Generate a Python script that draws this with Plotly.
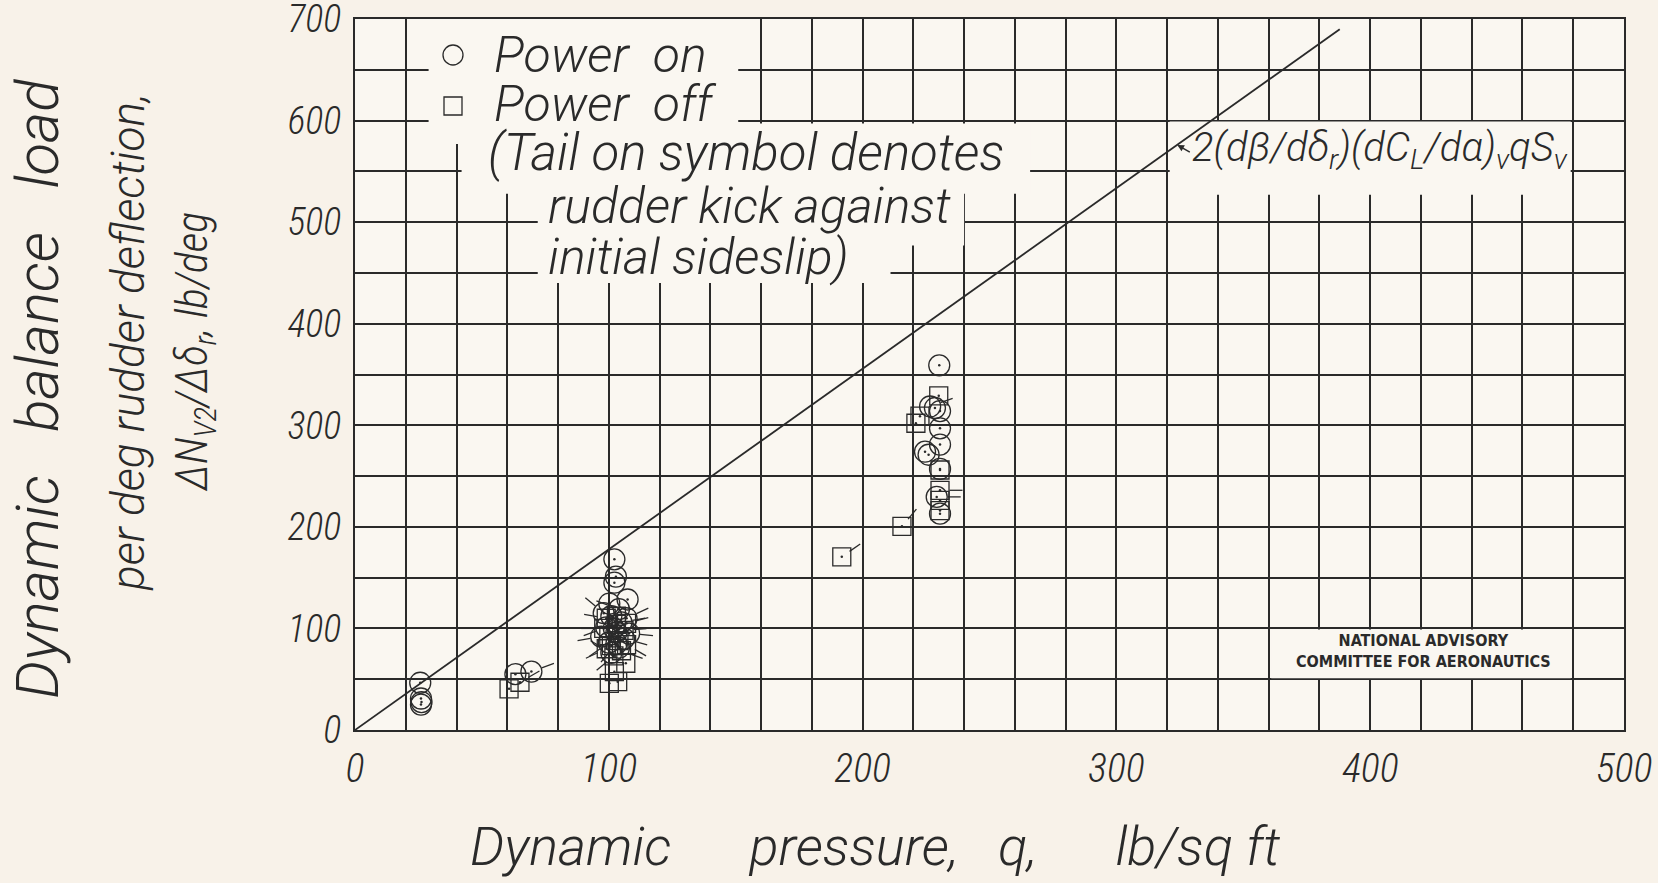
import math
import plotly.graph_objects as go

# ---- data -------------------------------------------------------------
# Power on (circles): dynamic pressure q [lb/sq ft] and load [lb/deg]
on_q = [25.7, 26.0, 26.2, 26.0,
        63.2, 69.5,
        102.2, 102.8, 102.2, 107.4, 100.2, 104.0, 101.0, 105.0, 99.0,
        103.0, 106.0, 100.0, 104.0, 101.0,
        98.0, 107.0, 102.0, 97.0, 108.0, 103.0,
        230.2, 226.6, 228.5, 230.5, 230.5, 230.5, 224.6, 226.0, 230.5,
        229.2, 230.5]
on_v = [46.5, 31.0, 27.5, 25.0,
        55.0, 57.5,
        168.0, 151.0, 145.0, 128.5, 124.5, 119.0, 112.0, 106.0, 101.0,
        96.0, 90.0, 86.0, 81.0, 76.0,
        115.0, 110.0, 100.0, 92.0, 95.0, 85.0,
        359.0, 318.5, 317.0, 314.0, 297.0, 281.0, 274.0, 271.0, 257.0,
        229.5, 213.0]
# tail direction in degrees (None = no tail)
on_tail = [None, None, None, None,
           None, 20,
           None, None, None, None, None, 160, None, 10, 200,
           None, -15, 215, None, 150,
           140, 25, None, 190, -5, 230,
           None, 20, None, None, None, None, None, None, None,
           0, None]

# Power off (squares)
off_q = [60.7, 65.0,
         99.0, 103.0, 106.0, 100.0, 104.0, 101.0, 105.0, 102.0,
         98.0, 107.0, 103.0, 99.0, 107.0,
         106.7, 102.2, 100.2, 103.5,
         191.8, 215.5,
         230.0, 222.6, 221.0, 230.5, 230.5, 230.5, 230.5]
off_v = [40.5, 47.0,
         110.0, 104.0, 98.0, 93.0, 88.0, 83.0, 78.0, 73.0,
         100.0, 105.0, 112.0, 80.0, 84.0,
         65.7, 57.4, 46.0, 47.6,
         170.5, 200.5,
         329.0, 309.0, 302.0, 256.0, 236.0, 226.0, 216.0]
off_tail = [None, 30,
            170, None, 5, None, 195, None, -20, 220,
            180, 15, None, 205, -30,
            None, None, None, None,
            35, 50,
            None, None, None, None, 0, None, None]

# 2(dB/dd_r)(dC_L/da)_v q S_v reference line
theory_q = [0, 388]
theory_v = [0, 690]

x_ticks = [0, 100, 200, 300, 400, 500]
y_ticks = [0, 100, 200, 300, 400, 500, 600, 700]

# ---- styling ----------------------------------------------------------
W, H = 1658, 883
ML, MR, MT, MB = 355, 34, 19, 153
PW, PH = W - ML - MR, H - MT - MB
XMAX, YMAX = 500, 700
KX, KY = PW / XMAX, PH / YMAX          # pixels per data unit

INK = "#2a2a2a"
PAPER = "#f8f2e9"
PLOT = "#faf7f1"
NARROW = "Roboto Condensed, Liberation Sans Narrow, Arial Narrow, sans-serif"
WIDE = "Roboto, Liberation Sans, Arial, sans-serif"


def hand(size, family=WIDE):
    return dict(family=family, size=size, color=INK, weight=300,
                style="italic")


def px(xp):
    return (xp - ML) / PW


def py(yp):
    return (MT + PH - yp) / PH


def tails(qs, vs, angs, marker_px):
    xs, ys = [], []
    r0 = marker_px / 2 + 0.5
    r1 = r0 + 13
    for q, v, a in zip(qs, vs, angs):
        if a is None:
            continue
        c, s = math.cos(math.radians(a)), math.sin(math.radians(a))
        xs += [q + r0 * c / KX, q + r1 * c / KX, None]
        ys += [v + r0 * s / KY, v + r1 * s / KY, None]
    return xs, ys


fig = go.Figure()

fig.add_trace(go.Scatter(x=theory_q, y=theory_v, mode="lines",
                         line=dict(color=INK, width=1.8),
                         showlegend=False, hoverinfo="skip"))

fig.add_trace(go.Scatter(x=on_q, y=on_v, mode="markers", name="Power on",
                         marker=dict(symbol="circle-open", size=21, color=INK,
                                     line=dict(width=1.3)),
                         showlegend=False))
fig.add_trace(go.Scatter(x=off_q, y=off_v, mode="markers", name="Power off",
                         marker=dict(symbol="square-open", size=18, color=INK,
                                     line=dict(width=1.3)),
                         showlegend=False))

tx1, ty1 = tails(on_q, on_v, on_tail, 21)
tx2, ty2 = tails(off_q, off_v, off_tail, 18)
fig.add_trace(go.Scatter(x=tx1 + tx2, y=ty1 + ty2, mode="lines",
                         line=dict(color=INK, width=1.3),
                         showlegend=False, hoverinfo="skip"))

# centre dots of the symbols
fig.add_trace(go.Scatter(x=on_q + off_q, y=on_v + off_v, mode="markers",
                         marker=dict(symbol="circle", size=2.5, color=INK),
                         showlegend=False, hoverinfo="skip"))

# ---- blank panels behind the lettering (hide the grid) ----------------
panels = [
    (29, 151, 577, 700),
    (42, 266, 528, 597),
    (72, 240, 477, 530),
    (72, 211, 440, 478),
    (321, 479, 527, 599),
    (361, 479, 51, 99),
]
shapes = []
for x0, x1, y0, y1 in panels:
    shapes.append(dict(type="rect", xref="x", yref="y", x0=x0, x1=x1,
                       y0=y0, y1=y1, fillcolor=PLOT, line=dict(width=0),
                       layer="between"))

# legend keys
shapes.append(dict(type="circle", xref="paper", yref="paper",
                   xsizemode="pixel", ysizemode="pixel",
                   xanchor=px(453), yanchor=py(55),
                   x0=-10, x1=10, y0=-10, y1=10,
                   line=dict(color=INK, width=1.3)))
shapes.append(dict(type="rect", xref="paper", yref="paper",
                   xsizemode="pixel", ysizemode="pixel",
                   xanchor=px(453), yanchor=py(106),
                   x0=-9, x1=9, y0=-9, y1=9,
                   line=dict(color=INK, width=1.3)))

ann = []


def text(t, xp, yp, size, xanchor="left", angle=0, family=WIDE):
    ann.append(dict(text=t, xref="paper", yref="paper", x=px(xp), y=py(yp),
                    xanchor=xanchor, yanchor="middle", showarrow=False,
                    textangle=angle, font=hand(size, family)))


text("Power  on", 492, 55, 50)
text("Power  off", 492, 104, 50)
text("(Tail on symbol denotes", 486, 153, 51)
text("rudder kick against", 546, 206, 50)
text("initial sideslip)", 546, 257, 50)

text("2(dβ/dδ<sub>r</sub>)(dC<sub>L</sub>/dα)<sub>v</sub>qS<sub>v</sub>",
     1190, 150, 40)
ann.append(dict(x=324, y=576, xref="x", yref="y", text="", showarrow=True,
                ax=14, ay=8, arrowhead=2, arrowsize=0.9, arrowwidth=1.5,
                arrowcolor=INK, standoff=0))

text("Dynamic      pressure,   q,      lb/sq ft", 875, 846, 54,
     xanchor="center")
text("Dynamic   balance   load", 38, 389, 60, xanchor="center", angle=-90)
text("per deg rudder deflection,", 128, 342, 46, xanchor="center", angle=-90)
text("ΔN<sub>V2</sub>/Δδ<sub>r</sub>, lb/deg", 195, 352, 44,
     xanchor="center", angle=-90, family=NARROW)

ann.append(dict(text="NATIONAL ADVISORY<br>COMMITTEE FOR AERONAUTICS",
                xref="paper", yref="paper", x=px(1423), y=py(651),
                xanchor="center", yanchor="middle", showarrow=False,
                font=dict(family="DejaVu Sans Condensed, Liberation Sans Narrow, sans-serif",
                          size=16, color=INK, weight="bold")))

grid = dict(gridcolor=INK, gridwidth=1.6)

fig.update_layout(
    width=W, height=H,
    margin=dict(l=ML, r=MR, t=MT, b=MB, autoexpand=False),
    paper_bgcolor=PAPER, plot_bgcolor=PLOT,
    shapes=shapes, annotations=ann,
    showlegend=False,
    xaxis=dict(range=[0, XMAX], tickvals=x_ticks,
               ticktext=[str(v) for v in x_ticks],
               tickfont=hand(40, NARROW), ticks="", ticklabelstandoff=2,
               ticklabeloverflow="allow", automargin=False,
               showgrid=True, **grid,
               minor=dict(dtick=20, showgrid=True, **grid),
               showline=True, linecolor=INK, linewidth=2.4, mirror=True,
               zeroline=False, fixedrange=True),
    yaxis=dict(range=[0, YMAX], tickvals=y_ticks,
               ticktext=[str(v) for v in y_ticks],
               tickfont=hand(38, NARROW), ticks="", ticklabelstandoff=4,
               ticklabeloverflow="allow", automargin=False,
               showgrid=True, **grid,
               minor=dict(dtick=50, showgrid=True, **grid),
               showline=True, linecolor=INK, linewidth=2.4, mirror=True,
               zeroline=False, fixedrange=True),
)

fig.write_html("out.html")
